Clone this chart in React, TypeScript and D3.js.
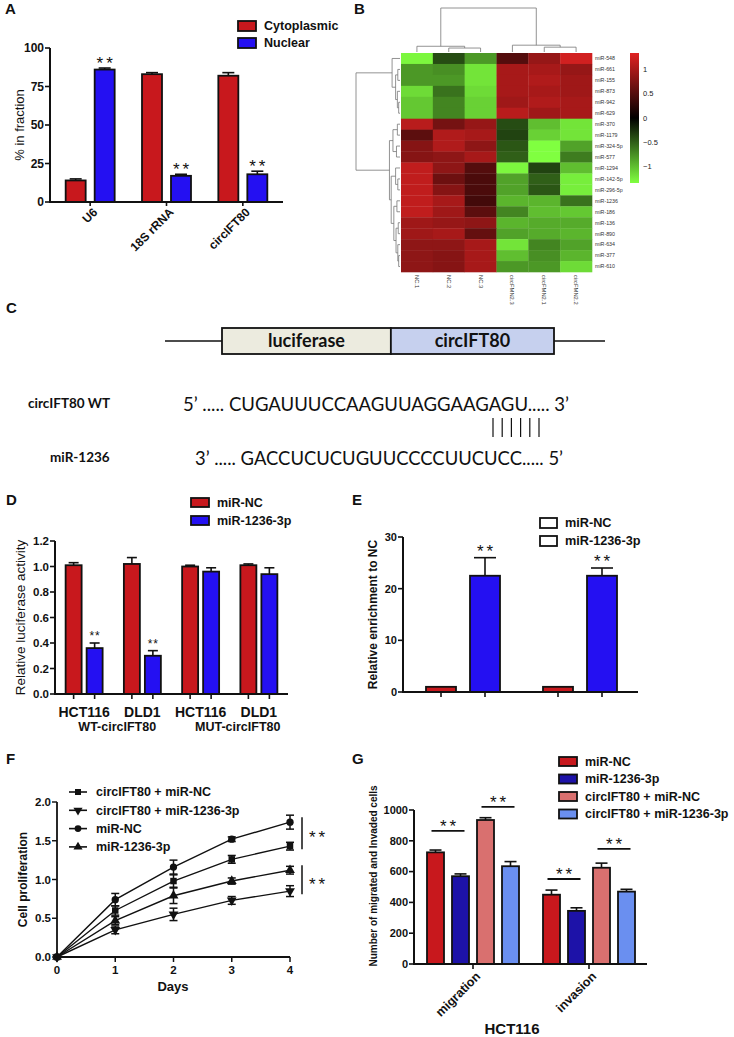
import React from 'react';
import * as d3 from 'd3';

const SANS = '"Liberation Sans", Arial, sans-serif';
const CAL = 'Lato, "Open Sans", sans-serif';
const INK = '#111';

// ---------- Panel A ----------
const aCategories = ['U6', '18S rRNA', 'circIFT80'];
const aSeries = ['Cytoplasmic', 'Nuclear'];
const aCyto = [14, 83, 82];
const aCytoErr = [1, 1, 2];
const aNuc = [86, 17, 18];
const aNucErr = [1, 1, 2];
const aSig = [[false, true], [false, true], [false, true]];
const aTicks = [0, 25, 50, 75, 100];
const aColors = ['#c8181d', '#2410f2'];

// ---------- Panel B ----------
const bRows = ['miR-548', 'miR-661', 'miR-155', 'miR-873', 'miR-942', 'miR-629', 'miR-370', 'miR-1179', 'miR-324-5p', 'miR-577', 'miR-1294', 'miR-142-5p', 'miR-296-5p', 'miR-1236', 'miR-186', 'miR-136', 'miR-890', 'miR-634', 'miR-377', 'miR-610'];
const bCols = ['NC.1', 'NC.2', 'NC.3', 'circFMN2.3', 'circFMN2.1', 'circFMN2.2'];
const bValues = [
  [-1.3, -0.4, -0.8, 0.5, 0.9, 1.25],
  [-0.8, -0.75, -1.2, 1.0, 1.0, 0.9],
  [-0.8, -0.8, -1.2, 1.0, 1.05, 0.95],
  [-1.15, -0.6, -1.15, 1.0, 1.0, 0.95],
  [-1.05, -0.7, -1.1, 0.95, 1.05, 1.0],
  [-1.05, -0.7, -1.1, 1.1, 0.95, 1.0],
  [1.1, 0.7, 0.9, -0.4, -1.0, -1.2],
  [0.55, 1.05, 1.0, -0.35, -1.1, -1.2],
  [0.8, 1.05, 0.85, -0.45, -1.35, -0.85],
  [0.8, 0.85, 1.0, -0.5, -1.35, -0.65],
  [1.15, 0.85, 0.5, -1.3, -0.35, -1.0],
  [1.15, 0.65, 0.45, -0.85, -0.5, -1.25],
  [1.15, 0.8, 0.45, -0.85, -0.45, -1.25],
  [1.15, 1.0, 0.4, -0.95, -0.95, -0.6],
  [1.15, 0.95, 0.55, -0.7, -1.0, -1.05],
  [0.95, 0.9, 0.85, -0.95, -0.9, -0.9],
  [0.95, 1.0, 0.6, -0.85, -0.9, -0.95],
  [0.85, 0.85, 1.0, -1.2, -0.7, -0.85],
  [0.85, 0.8, 1.0, -1.0, -0.75, -0.95],
  [0.85, 0.8, 1.0, -0.8, -0.8, -1.15],
];
const bLegendTicks = [1, 0.5, 0, -0.5, -1];
const bLimit = 1.34;
type Tree = number | { h: number; c: [Tree, Tree] };
const N = (h: number, a: Tree, b: Tree): Tree => ({ h, c: [a, b] });
const bRowTree: Tree = N(1.0,
  N(0.18, 0, N(0.1, N(0.05, 1, 2), N(0.06, 3, N(0.03, 4, 5)))),
  N(0.24,
    N(0.16, N(0.06, 6, 7), N(0.08, 8, 9)),
    N(0.2, N(0.1, 10, N(0.05, 11, 12)),
      N(0.14, N(0.07, 13, 14), N(0.09, N(0.04, 15, 16), N(0.05, 17, N(0.03, 18, 19)))))));
const bColTree: Tree = N(1.0, N(0.13, 0, N(0.09, 1, 2)), N(0.155, 3, N(0.11, 4, 5)));

// ---------- Panel C ----------
const cSegments = ['luciferase', 'circIFT80'];
const cSegmentLen = [1, 0.966];
const cWtLabel = 'circIFT80 WT';
const cWtSeq = '5’ ..... CUGAUUUCCAAGUUAGGAAGAGU..... 3’';
const cMirLabel = 'miR-1236';
const cMirSeq = '3’ ..... GACCUCUCUGUUCCCCUUCUCC..... 5’';
const cPairs = 6;

// ---------- Panel D ----------
const dCells = ['HCT116', 'DLD1', 'HCT116 ', 'DLD1 '];
const dConstructs = ['WT-circIFT80', 'MUT-circIFT80'];
const dSeries = ['miR-NC', 'miR-1236-3p'];
const dNC = [1.01, 1.02, 1.0, 1.01];
const dNCErr = [0.02, 0.05, 0.01, 0.01];
const dMir = [0.36, 0.3, 0.96, 0.94];
const dMirErr = [0.04, 0.04, 0.03, 0.05];
const dSig = [true, true, false, false];
const dTicks = [0, 0.2, 0.4, 0.6, 0.8, 1.0, 1.2];

// ---------- Panel E ----------
const eGroups = ['A', 'B'];
const eSeries = ['miR-NC', 'miR-1236-3p'];
const eNC = [1, 1];
const eNCErr = [0, 0];
const eMir = [22.5, 22.5];
const eMirErr = [3.5, 1.5];
const eTicks = [0, 10, 20, 30];

// ---------- Panel F ----------
const fDays = [0, 1, 2, 3, 4];
const fSeries = ['circIFT80 + miR-NC', 'circIFT80 + miR-1236-3p', 'miR-NC', 'miR-1236-3p'];
const fValues = [
  [0, 0.6, 0.98, 1.26, 1.43],
  [0, 0.35, 0.55, 0.73, 0.85],
  [0, 0.74, 1.16, 1.52, 1.74],
  [0, 0.47, 0.79, 0.98, 1.12],
];
const fErrors = [
  [0, 0.06, 0.08, 0.05, 0.05],
  [0, 0.05, 0.08, 0.05, 0.07],
  [0, 0.08, 0.09, 0.03, 0.09],
  [0, 0.05, 0.1, 0.04, 0.05],
];
const fSymbols = ['square', 'down', 'circle', 'up'];
const fYTicks = [0, 0.5, 1.0, 1.5, 2.0];
const fSigPairs = [[2, 0], [3, 1]];

// ---------- Panel G ----------
const gGroups = ['migration', 'invasion'];
const gSeries = ['miR-NC', 'miR-1236-3p', 'circIFT80 + miR-NC', 'circIFT80 + miR-1236-3p'];
const gValues = [[725, 450], [570, 345], [935, 625], [635, 470]];
const gErrors = [[15, 30], [15, 20], [15, 30], [30, 15]];
const gColors = ['#c8181d', '#1d12a8', '#d9706f', '#6a8ff0'];
const gTicks = [0, 200, 400, 600, 800, 1000];
const gComparisons = [[0, 0, 1, 865], [0, 2, 3, 1020], [1, 0, 1, 552], [1, 2, 3, 747]];

// ---------- helpers ----------
function ErrBar({ cx, y0, y1, cap }: any) {
  return (
    <g stroke={INK} strokeWidth={1.6}>
      <line x1={cx} x2={cx} y1={y0} y2={y1} />
      <line x1={cx - cap} x2={cx + cap} y1={y1} y2={y1} />
    </g>
  );
}

function Stars({ x, y, size = 14, gap = 2 }: any) {
  return (
    <text x={x + gap / 2} y={y} textAnchor="middle" fontSize={size} fontFamily={SANS} fill={INK} letterSpacing={gap}>**</text>
  );
}

function YAxis({ x, y, ticks, fmt, fs = 11.5, len = 5, sw = 2 }: any) {
  const [r0, r1] = y.range();
  return (
    <g>
      <line x1={x} x2={x} y1={r0 + sw / 2} y2={r1} stroke={INK} strokeWidth={sw} />
      {ticks.map((t: number) => (
        <g key={t}>
          <line x1={x - len} x2={x} y1={y(t)} y2={y(t)} stroke={INK} strokeWidth={sw * 0.8} />
          <text x={x - len - 1} y={y(t)} dy="0.35em" textAnchor="end" fontSize={fs} fontWeight="bold" fontFamily={SANS} fill={INK}>{fmt(t)}</text>
        </g>
      ))}
    </g>
  );
}

function PanelLabel({ x, y, t }: any) {
  return <text x={x} y={y} fontSize={15} fontWeight="bold" fontFamily={SANS} fill={INK}>{t}</text>;
}

function LegendBox({ x, y, w, h, fill, label, fs = 12.5 }: any) {
  return (
    <g>
      <rect x={x} y={y} width={w} height={h} fill={fill} stroke={INK} strokeWidth={1.8} />
      <text x={x + w + 8} y={y + h / 2} dy="0.35em" fontSize={fs} fontWeight="bold" fontFamily={SANS} fill={INK}>{label}</text>
    </g>
  );
}

// ---------- Panels ----------
function PanelA() {
  const y = d3.scaleLinear().domain([0, 100]).range([202, 48]);
  const x = d3.scaleBand().domain(aCategories).range([52, 281]);
  const off = d3.scalePoint().domain(aSeries).range([-14.5, 14.5]);
  const vals = [aCyto, aNuc];
  const errs = [aCytoErr, aNucErr];
  const bw = 20;
  return (
    <g>
      <PanelLabel x={5} y={14} t="A" />
      {aSeries.map((s, si) => aCategories.map((c, ci) => {
        const cx = x(c)! + x.bandwidth() / 2 + off(s)!;
        const v = vals[si][ci], e = errs[si][ci];
        return (
          <g key={s + c}>
            <ErrBar cx={cx} y0={y(v)} y1={y(v + e)} cap={6} />
            <rect x={cx - bw / 2} y={y(v)} width={bw} height={y(0) - y(v)} fill={aColors[si]} stroke={INK} strokeWidth={1.8} />
            {aSig[ci][si] && <Stars x={cx} y={y(v + e) + 1} size={17} gap={3} />}
          </g>
        );
      }))}
      <YAxis x={50} y={y} ticks={aTicks} fmt={(d: number) => String(d)} fs={12} />
      <line x1={49} x2={283} y1={y(0)} y2={y(0)} stroke={INK} strokeWidth={2} />
      {aCategories.map(c => {
        const cx = x(c)! + x.bandwidth() / 2;
        return (
          <g key={c}>
            <line x1={cx} x2={cx} y1={y(0)} y2={y(0) + 4} stroke={INK} strokeWidth={1.6} />
            <text transform={`translate(${cx + 5},${y(0) + 8}) rotate(-45)`} dy="0.35em" textAnchor="end" fontSize={12} fontWeight="bold" fontFamily={SANS} fill={INK}>{c}</text>
          </g>
        );
      })}
      <text transform={`translate(19,${(y(0) + y(100)) / 2}) rotate(-90)`} textAnchor="middle" dy="0.35em" fontSize={13} fontFamily={SANS} fill={INK}>% in fraction</text>
      {aSeries.map((s, i) => (
        <LegendBox key={s} x={238} y={21 + i * 17} w={18} h={10} fill={aColors[i]} label={s} fs={12.5} />
      ))}
    </g>
  );
}

function dendro(t: Tree, leafPos: (i: number) => number, hs: (h: number) => number, segs: any[]): { p: number; h: number } {
  if (typeof t === 'number') return { p: leafPos(t), h: 0 };
  const a = dendro(t.c[0], leafPos, hs, segs);
  const b = dendro(t.c[1], leafPos, hs, segs);
  segs.push({ kind: 'cross', p1: a.p, p2: b.p, h: hs(t.h) });
  segs.push({ kind: 'stem', p: a.p, h1: hs(a.h), h2: hs(t.h) });
  segs.push({ kind: 'stem', p: b.p, h1: hs(b.h), h2: hs(t.h) });
  return { p: (a.p + b.p) / 2, h: t.h };
}

function PanelB() {
  const x = d3.scaleBand().domain(bCols).range([401, 592]);
  const y = d3.scaleBand().domain(bRows).range([53, 272]);
  const color = d3.scaleLinear<string>().domain([-bLimit, 0, bLimit]).range(['#80ff40', '#000000', '#e02222']).clamp(true);
  const ly = d3.scaleLinear().domain([-bLimit, bLimit]).range([183, 53]);
  const rowSegs: any[] = [];
  dendro(bRowTree, i => y(bRows[i])! + y.bandwidth() / 2, d3.scaleLinear().domain([0, 1]).range([400, 356]), rowSegs);
  const colSegs: any[] = [];
  dendro(bColTree, i => x(bCols[i])! + x.bandwidth() / 2, d3.scaleLinear().domain([0, 1]).range([52, 8]), colSegs);
  const fmt = (d: number) => (d < 0 ? '\u2212' + Math.abs(d) : String(d));
  return (
    <g>
      <PanelLabel x={354} y={14} t="B" />
      {bValues.map((row, ri) => row.map((v, ci) => (
        <rect key={ri + '-' + ci} x={x(bCols[ci])} y={y(bRows[ri])} width={x.bandwidth() + 0.3} height={y.bandwidth() + 0.3} fill={color(v)} />
      )))}
      <g stroke="#777" strokeWidth={0.8} fill="none">
        {rowSegs.map((s, i) => s.kind === 'cross'
          ? <line key={i} x1={s.h} x2={s.h} y1={s.p1} y2={s.p2} />
          : <line key={i} x1={s.h1} x2={s.h2} y1={s.p} y2={s.p} />)}
        {colSegs.map((s, i) => s.kind === 'cross'
          ? <line key={i} y1={s.h} y2={s.h} x1={s.p1} x2={s.p2} />
          : <line key={i} y1={s.h1} y2={s.h2} x1={s.p} x2={s.p} />)}
      </g>
      {bRows.map(r => (
        <text key={r} x={595} y={y(r)! + y.bandwidth() / 2} dy="0.35em" fontSize={5.3} fontFamily={SANS} fill="#333">{r}</text>
      ))}
      {bCols.map(c => (
        <text key={c} transform={`translate(${x(c)! + x.bandwidth() / 2},275) rotate(90)`} dy="0.35em" fontSize={5.8} fontFamily={SANS} fill="#333">{c}</text>
      ))}
      <defs>
        <linearGradient id="hmgrad" x1="0" x2="0" y1="1" y2="0">
          <stop offset="0" stopColor={color(-bLimit)} />
          <stop offset="0.5" stopColor={color(0)} />
          <stop offset="1" stopColor={color(bLimit)} />
        </linearGradient>
      </defs>
      <rect x={630} y={ly(bLimit)} width={9} height={ly(-bLimit) - ly(bLimit)} fill="url(#hmgrad)" />
      {bLegendTicks.map(t => (
        <text key={t} x={643} y={ly(t)} dy="0.35em" fontSize={7.5} fontFamily={SANS} fill="#222">{fmt(t)}</text>
      ))}
    </g>
  );
}

function PanelC() {
  const total = d3.sum(cSegmentLen);
  const sx = d3.scaleLinear().domain([0, total]).range([222, 554]);
  const bounds = cSegmentLen.map((_, i) => [sx(d3.sum(cSegmentLen.slice(0, i))), sx(d3.sum(cSegmentLen.slice(0, i + 1)))]);
  const fills = ['#ecebdf', '#c6d0ee'];
  const pairX = d3.scaleLinear().domain([0, cPairs - 1]).range([493, 539]);
  return (
    <g>
      <PanelLabel x={6} y={313} t="C" />
      <line x1={165} x2={605} y1={341} y2={341} stroke={INK} strokeWidth={1.5} />
      {cSegments.map((s, i) => (
        <g key={s}>
          <rect x={bounds[i][0]} y={328} width={bounds[i][1] - bounds[i][0]} height={26} fill={fills[i]} stroke={INK} strokeWidth={1.8} />
          <text x={(bounds[i][0] + bounds[i][1]) / 2} y={341} dy="0.35em" textAnchor="middle" fontSize={18} fontWeight="bold" fontFamily={CAL} fill={INK}>{s}</text>
        </g>
      ))}
      <text x={28} y={403} dy="0.35em" fontSize={13.5} fontWeight="bold" fontFamily={CAL} fill={INK}>{cWtLabel}</text>
      <text x={183} y={404} dy="0.35em" fontSize={19} fontFamily={CAL} fill={INK} textLength={386} lengthAdjust="spacingAndGlyphs">{cWtSeq}</text>
      {d3.range(cPairs).map(i => (
        <line key={i} x1={pairX(i)} x2={pairX(i)} y1={418} y2={437} stroke={INK} strokeWidth={1.2} />
      ))}
      <text x={50} y={457} dy="0.35em" fontSize={13.5} fontWeight="bold" fontFamily={CAL} fill={INK}>{cMirLabel}</text>
      <text x={195} y={458} dy="0.35em" fontSize={19} fontFamily={CAL} fill={INK} textLength={368} lengthAdjust="spacingAndGlyphs">{cMirSeq}</text>
    </g>
  );
}

function PanelD() {
  const y = d3.scaleLinear().domain([0, 1.2]).range([694, 541]);
  const x = d3.scaleBand().domain(dCells).range([55, 288]);
  const off = d3.scalePoint().domain(dSeries).range([-10.5, 10.5]);
  const vals = [dNC, dMir];
  const errs = [dNCErr, dMirErr];
  const bw = 16;
  const ticksX: number[] = [];
  return (
    <g>
      <PanelLabel x={6} y={505} t="D" />
      {dSeries.map((s, si) => dCells.map((c, ci) => {
        const cx = x(c)! + x.bandwidth() / 2 + off(s)!;
        ticksX.push(cx);
        const v = vals[si][ci], e = errs[si][ci];
        return (
          <g key={s + c}>
            <ErrBar cx={cx} y0={y(v)} y1={y(v + e)} cap={5} />
            <rect x={cx - bw / 2} y={y(v)} width={bw} height={y(0) - y(v)} fill={aColors[si]} stroke={INK} strokeWidth={1.8} />
            {si === 1 && dSig[ci] && <Stars x={cx} y={y(v + e) - 3} size={12} gap={1} />}
          </g>
        );
      }))}
      <YAxis x={55} y={y} ticks={dTicks} fmt={(d: number) => d.toFixed(1)} fs={11.5} />
      <line x1={54} x2={288} y1={y(0)} y2={y(0)} stroke={INK} strokeWidth={2} />
      {ticksX.map((t, i) => <line key={i} x1={t} x2={t} y1={y(0)} y2={y(0) + 5} stroke={INK} strokeWidth={1.6} />)}
      {dCells.map(c => (
        <text key={c} x={x(c)! + x.bandwidth() / 2} y={712} dy="0.35em" textAnchor="middle" fontSize={14} fontWeight="bold" fontFamily={SANS} fill={INK}>{c.trim()}</text>
      ))}
      {dConstructs.map((c, i) => {
        const c0 = x(dCells[i * 2])! + x.bandwidth() / 2;
        const c1 = x(dCells[i * 2 + 1])! + x.bandwidth() / 2;
        return <text key={c} x={(c0 + c1) / 2 + (i === 1 ? 8 : 4)} y={727} dy="0.35em" textAnchor="middle" fontSize={12.5} fontWeight="bold" fontFamily={SANS} fill={INK}>{c}</text>;
      })}
      <text transform={`translate(20,${(y(0) + y(1.2)) / 2}) rotate(-90)`} textAnchor="middle" dy="0.35em" fontSize={13.5} fontFamily={SANS} fill={INK}>Relative luciferase activity</text>
      {dSeries.map((s, i) => (
        <LegendBox key={s} x={191} y={498 + i * 18} w={18} h={9} fill={aColors[i]} label={s} fs={12.5} />
      ))}
    </g>
  );
}

function PanelE() {
  const y = d3.scaleLinear().domain([0, 30]).range([692, 537]);
  const x = d3.scaleBand().domain(eGroups).range([404.5, 638.5]);
  const off = d3.scalePoint().domain(eSeries).range([-22, 22]);
  const vals = [eNC, eMir];
  const errs = [eNCErr, eMirErr];
  const bw = 30;
  const ticksX: number[] = [];
  return (
    <g>
      <PanelLabel x={352} y={505} t="E" />
      {eSeries.map((s, si) => eGroups.map((c, ci) => {
        const cx = x(c)! + x.bandwidth() / 2 + off(s)!;
        ticksX.push(cx);
        const v = vals[si][ci], e = errs[si][ci];
        return (
          <g key={s + c}>
            {e > 0 && <ErrBar cx={cx} y0={y(v)} y1={y(v + e)} cap={11} />}
            <rect x={cx - bw / 2} y={y(v)} width={bw} height={y(0) - y(v)} fill={aColors[si]} stroke={INK} strokeWidth={1.8} />
            {si === 1 && <Stars x={cx} y={y(v + e) - 1} size={17} gap={3} />}
          </g>
        );
      }))}
      <YAxis x={403} y={y} ticks={eTicks} fmt={(d: number) => String(d)} fs={11} />
      <line x1={402} x2={638} y1={y(0)} y2={y(0)} stroke={INK} strokeWidth={2} />
      {ticksX.map((t, i) => <line key={i} x1={t} x2={t} y1={y(0)} y2={y(0) + 5} stroke={INK} strokeWidth={1.6} />)}
      <text transform={`translate(373,${(y(0) + y(30)) / 2}) rotate(-90)`} textAnchor="middle" dy="0.35em" fontSize={12} fontWeight="bold" fontFamily={SANS} fill={INK}>Relative enrichment to NC</text>
      {eSeries.map((s, i) => (
        <LegendBox key={s} x={540} y={518 + i * 18} w={17} h={10} fill="#fff" label={s} fs={12.7} />
      ))}
    </g>
  );
}

function marker(kind: string, size: number) {
  if (kind === 'square') return d3.symbol(d3.symbolSquare, size)()!;
  if (kind === 'circle') return d3.symbol(d3.symbolCircle, size)()!;
  return d3.symbol(d3.symbolTriangle, size)()!;
}

function PanelF() {
  const x = d3.scaleLinear().domain([0, 4]).range([57, 290]);
  const y = d3.scaleLinear().domain([0, 2]).range([957, 802]);
  const line = d3.line<number>().x((_, i) => x(fDays[i])).y(d => y(d));
  const sym = (k: string, cx: number, cy: number, size = 42) => (
    <path d={marker(k, size)} transform={`translate(${cx},${cy})${k === 'down' ? ' rotate(180)' : ''}`} fill={INK} />
  );
  return (
    <g>
      <PanelLabel x={6} y={764} t="F" />
      {fValues.map((vals, si) => (
        <g key={si}>
          <path d={line(vals)!} fill="none" stroke={INK} strokeWidth={1.4} />
          {vals.map((v, i) => {
            const e = fErrors[si][i];
            const cx = x(fDays[i]);
            return (
              <g key={i}>
                {e > 0 && (
                  <g stroke={INK} strokeWidth={1.5}>
                    <line x1={cx} x2={cx} y1={y(v - e)} y2={y(v + e)} />
                    <line x1={cx - 4} x2={cx + 4} y1={y(v + e)} y2={y(v + e)} />
                    <line x1={cx - 4} x2={cx + 4} y1={y(v - e)} y2={y(v - e)} />
                  </g>
                )}
                {sym(fSymbols[si], cx, y(v))}
              </g>
            );
          })}
        </g>
      ))}
      <YAxis x={57} y={y} ticks={fYTicks} fmt={(d: number) => d.toFixed(1)} fs={11.5} sw={1.8} />
      <line x1={56} x2={290} y1={y(0)} y2={y(0)} stroke={INK} strokeWidth={1.8} />
      {fDays.map(d => (
        <g key={d}>
          <line x1={x(d)} x2={x(d)} y1={y(0)} y2={y(0) + 5} stroke={INK} strokeWidth={1.5} />
          <text x={x(d)} y={970} dy="0.35em" textAnchor="middle" fontSize={11.5} fontWeight="bold" fontFamily={SANS} fill={INK}>{d}</text>
        </g>
      ))}
      <text x={173} y={986} dy="0.35em" textAnchor="middle" fontSize={13} fontWeight="bold" fontFamily={SANS} fill={INK}>Days</text>
      <text transform={`translate(23,${(y(0) + y(2)) / 2}) rotate(-90)`} textAnchor="middle" dy="0.35em" fontSize={12} fontWeight="bold" fontFamily={SANS} fill={INK}>Cell proliferation</text>
      {fSeries.map((s, i) => {
        const ly = 792 + i * 18.3;
        return (
          <g key={s}>
            <line x1={69} x2={87} y1={ly} y2={ly} stroke={INK} strokeWidth={1.6} />
            {sym(fSymbols[i], 78, ly, 36)}
            <text x={96} y={ly} dy="0.35em" fontSize={12.5} fontWeight="bold" fontFamily={SANS} fill={INK}>{s}</text>
          </g>
        );
      })}
      {fSigPairs.map(([a, b], i) => {
        const last = fDays.length - 1;
        const y1 = y(fValues[a][last]) - 5;
        const y2 = y(fValues[b][last]) + 3;
        return (
          <g key={i}>
            <line x1={302} x2={302} y1={y1} y2={y2} stroke={INK} strokeWidth={1.5} />
            <Stars x={317} y={(y1 + y2) / 2 + 10} size={17} gap={3} />
          </g>
        );
      })}
    </g>
  );
}

function PanelG() {
  const y = d3.scaleLinear().domain([0, 1000]).range([964, 810]);
  const x = d3.scaleBand().domain(gGroups).range([415, 647]);
  const off = d3.scalePoint().domain(gSeries).range([-37.5, 37.5]);
  const bw = 17;
  const cxOf = (gi: number, si: number) => x(gGroups[gi])! + x.bandwidth() / 2 + off(gSeries[si])!;
  return (
    <g>
      <PanelLabel x={352} y={764} t="G" />
      {gSeries.map((s, si) => gGroups.map((g, gi) => {
        const cx = cxOf(gi, si);
        const v = gValues[si][gi], e = gErrors[si][gi];
        return (
          <g key={s + g}>
            <ErrBar cx={cx} y0={y(v)} y1={y(v + e)} cap={6} />
            <rect x={cx - bw / 2} y={y(v)} width={bw} height={y(0) - y(v)} fill={gColors[si]} stroke={INK} strokeWidth={1.8} />
          </g>
        );
      }))}
      <YAxis x={414} y={y} ticks={gTicks} fmt={(d: number) => String(d)} fs={11} />
      <line x1={413} x2={647} y1={y(0)} y2={y(0)} stroke={INK} strokeWidth={2} />
      {gGroups.map(g => {
        const cx = x(g)! + x.bandwidth() / 2;
        return (
          <g key={g}>
            <line x1={cx} x2={cx} y1={y(0)} y2={y(0) + 5} stroke={INK} strokeWidth={1.6} />
            <text transform={`translate(${cx + 5},${y(0) + 10}) rotate(-45)`} dy="0.35em" textAnchor="end" fontSize={12.5} fontWeight="bold" fontFamily={SANS} fill={INK}>{g}</text>
          </g>
        );
      })}
      {gComparisons.map(([gi, a, b, lvl], i) => {
        const x1 = cxOf(gi, a) - 4, x2 = cxOf(gi, b) + 4;
        return (
          <g key={i}>
            <line x1={x1} x2={x2} y1={y(lvl)} y2={y(lvl)} stroke={INK} strokeWidth={1.8} />
            <Stars x={(x1 + x2) / 2} y={y(lvl) + 1} size={17} gap={3} />
          </g>
        );
      })}
      <text x={512} y={1029} dy="0.35em" textAnchor="middle" fontSize={15} fontWeight="bold" fontFamily={SANS} fill={INK}>HCT116</text>
      <text transform={`translate(373,876) rotate(-90)`} textAnchor="middle" dy="0.35em" fontSize={10} fontWeight="bold" fontFamily={SANS} fill={INK}>Number of migrated and Invaded cells</text>
      {gSeries.map((s, i) => (
        <LegendBox key={s} x={559} y={757 + i * 17.5} w={18} h={9} fill={gColors[i]} label={s} fs={12.5} />
      ))}
    </g>
  );
}

export default function App() {
  return (
    <svg width={734} height={1037} viewBox="0 0 734 1037" style={{ position: 'absolute', left: 0, top: 0, background: '#fff' }} fontFamily={SANS}>
      <rect width={734} height={1037} fill="#fff" />
      <PanelA />
      <PanelB />
      <PanelC />
      <PanelD />
      <PanelE />
      <PanelF />
      <PanelG />
    </svg>
  );
}
